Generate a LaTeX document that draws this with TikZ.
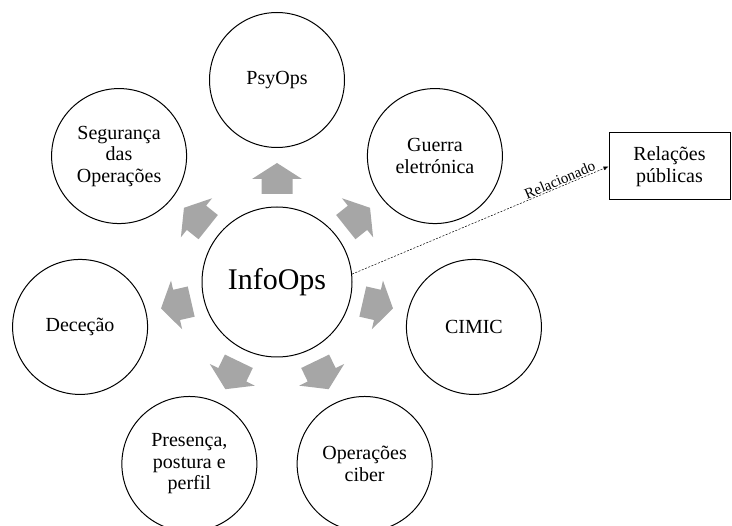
\documentclass[tikz,border=0pt]{standalone}
\usepackage{fontspec}
\setmainfont{Liberation Serif}
\usetikzlibrary{calc, arrows.meta}
\definecolor{arrowgray}{HTML}{A6A6A6}
\begin{document}
\begin{tikzpicture}[x = 1pt, y = 1pt,
		op/.style = {draw, circle, line width = 1pt, minimum size = 135pt, inner sep = 0, align = center, font = \fontsize{20}{21.5}\selectfont},
		hub/.style = {draw, circle, line width = 1pt, minimum size = 150pt, inner sep = 0, font = \fontsize{30}{32}\selectfont},
		related/.style = {draw, line width = 1pt, minimum width = 121pt, minimum height = 67pt, align = center, font = \fontsize{20}{22}\selectfont}]
	\useasboundingbox (0,0) rectangle (732,-526);
	\node[hub] (info) at (277,-282) {InfoOps};
	\foreach \name/\txt [count = \k from 0] in {psy/PsyOps, guerra/{Guerra\\eletrónica}, cimic/CIMIC, ciber/{Operações\\ciber}, presenca/{Presença,\\postura e\\perfil}, decep/Deceção, seg/{Segurança\\das\\Operações}}
		\node[op] (\name) at ($(info)+({90-\k*360/7}:202)$) {\txt};
	\foreach \k in {0,...,6}
		\fill[arrowgray, shift = {(info.center)}, rotate = {90-\k*360/7}] (88,-15.5) -- (103,-15.5) -- (103,-25) -- (119,0) -- (103,25) -- (103,15.5) -- (88,15.5) -- cycle;
	\node[related] (rp) at (669.5,-166.5) {Relações\\públicas};
	\draw[dash pattern = on 2pt off 1.5pt, line width = 0.5pt, -{Latex[length = 5pt, width = 4pt]}] (info.6) -- (rp.west) node[pos = 0.82, sloped, above, inner sep = 1pt, font = \fontsize{15}{15}\selectfont] {Relacionado};
\end{tikzpicture}
\end{document}
